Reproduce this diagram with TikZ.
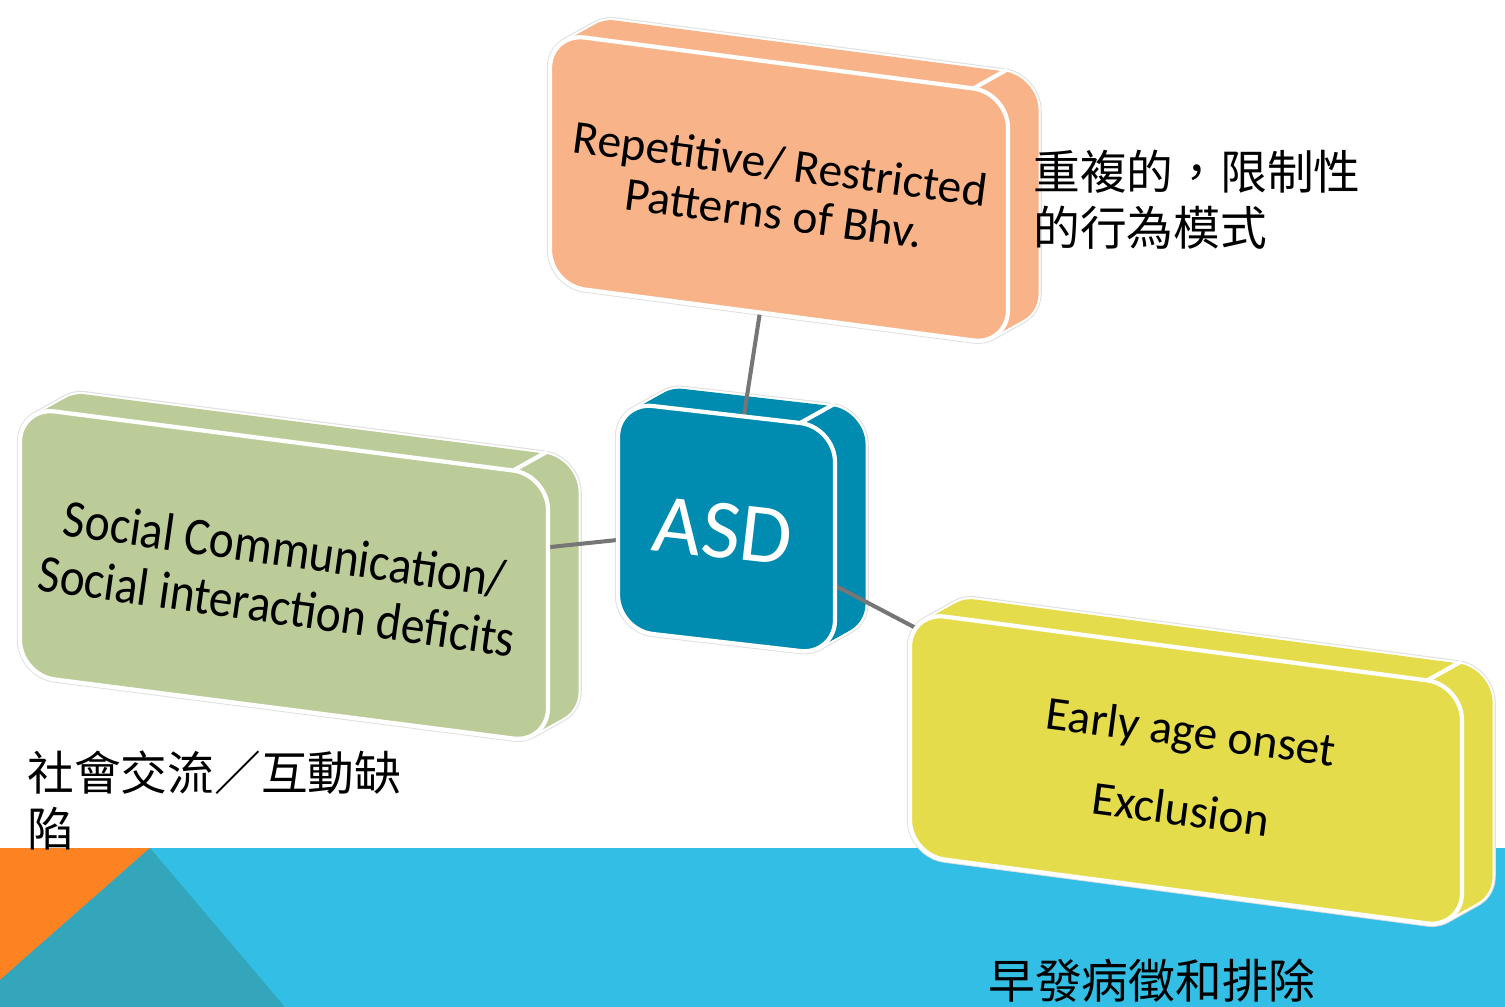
\documentclass[tikz,border=0pt]{standalone}
\usepackage{fontspec}
\newfontfamily\boxfont{Carlito}
\newfontfamily\cjk{Noto Sans CJK TC}
\usetikzlibrary{calc}
\definecolor{bandblue}{HTML}{33BFE5}
\definecolor{bandorange}{HTML}{FC8222}
\definecolor{bandteal}{HTML}{33A6BC}
\definecolor{reppeach}{HTML}{F8B388}
\definecolor{asdblue}{HTML}{008BB0}
\definecolor{socgreen}{HTML}{BCCC99}
\definecolor{onsetyellow}{HTML}{E5DC4C}
\definecolor{linkgray}{HTML}{767676}
\def\mdepthx{34}
\def\mdepthy{-19}
\def\mradius{0.7cm}
% corner #1 pushed back by the fraction #2 of the depth
\newcommand{\slabat}[2]{($(#1)+(#2*\mdepthx,#2*\mdepthy)$)}
\newcommand{\slabface}[2]{($(#1tl)!0.5!(#1bl)+(#2*\mdepthx,#2*\mdepthy)$) -- \slabat{#1tl}{#2} -- \slabat{#1tr}{#2} -- \slabat{#1br}{#2} -- \slabat{#1bl}{#2} -- cycle}
\tikzset{
  slabrim/.style={draw=white, line width=2.4pt, rounded corners=\mradius},
  slabshade/.style={draw=black!12, line width=3.6pt, rounded corners=\mradius},
  slabfill/.style={rounded corners=\mradius},
  link/.style={draw=linkgray, line width=2.3pt},
  slabtext/.style={font=\boxfont\fontsize{27}{28.5}\selectfont, align=center, inner sep=0pt},
  cjklabel/.style={font=\cjk\fontsize{26.6}{31.5}\selectfont, align=left, inner sep=0pt, anchor=base west},
}
\newcommand{\slabback}[2]{%
  \foreach \t in {0,0.1,...,1}
    \draw[slabshade] \slabface{#1}{\t};
  \foreach \t in {0,0.1,...,1}
    \draw[slabrim] \slabface{#1}{\t};
  \foreach \t in {0,0.1,...,1}
    \fill[#2, slabfill] \slabface{#1}{\t};
  \draw[slabrim] ($(#1tr)!\mradius!(#1tl)$) -- ++(\mdepthx,\mdepthy);
}
\newcommand{\slabfront}[2]{\filldraw[slabrim, fill=#2] \slabface{#1}{0};}
\begin{document}
\begin{tikzpicture}[x=0.02cm, y=-0.02cm]
  \useasboundingbox (0,0) rectangle (1505,1007);
  \fill[white] (0,0) rectangle (1505,1007);
  % bottom band
  \fill[bandblue] (0,848) rectangle (1505,1007);
  \fill[bandorange] (0,848) -- (150,848) -- (0,980) -- cycle;
  \fill[bandteal] (150,848) -- (285,1007) -- (0,1007) -- (0,980) -- cycle;

  % corners of the front faces
  \coordinate (reptl) at (550,33);   \coordinate (reptr) at (1008,93);
  \coordinate (repbr) at (1008,345); \coordinate (repbl) at (550,285);
  \coordinate (asdtl) at (618,402);  \coordinate (asdtr) at (835,427);
  \coordinate (asdbr) at (835,655);  \coordinate (asdbl) at (618,630);
  \coordinate (soctl) at (20,407);   \coordinate (soctr) at (548,475);
  \coordinate (socbr) at (548,743);  \coordinate (socbl) at (20,675);
  \coordinate (onsettl) at (910,612);  \coordinate (onsettr) at (1462,685);
  \coordinate (onsetbr) at (1462,928); \coordinate (onsetbl) at (910,855);
  \coordinate (rep) at (779,189);
  \coordinate (asd) at (726.5,528.5);
  \coordinate (soc) at (284,575);
  \coordinate (onset) at (1186,770);

  \slabback{rep}{reppeach}
  \slabback{asd}{asdblue}
  \slabback{soc}{socgreen}
  \slabback{onset}{onsetyellow}

  \draw[link] (rep) -- (asd);
  \draw[link] (soc) -- (asd);
  \draw[link] (asd) -- (onset);

  \slabfront{rep}{reppeach}
  \slabfront{asd}{asdblue}
  \slabfront{soc}{socgreen}
  \slabfront{onset}{onsetyellow}

  \node[slabtext, rotate=-7.5] (reptext) at (777,188) {Repetitive/ Restricted\\Patterns of Bhv.};
  \node[slabtext, rotate=-6.5, text=white, font=\boxfont\fontsize{48}{50}\selectfont] (asdtext) at (723,531) {ASD};
  \node[slabtext, rotate=-8, yscale=1.12, font=\boxfont\fontsize{27}{29.5}\selectfont] (soctext) at (281,577) {Social Communication/\\Social interaction deficits};
  \node[slabtext, rotate=-7.5] (onsettext) at (onset) {Early age onset\\[0.6em]Exclusion};

  \node[cjklabel] (repcn) at (1033,245) {重複的，限制性\\的行為模式};
  \node[cjklabel] (soccn) at (27,846) {社會交流／互動缺\\陷};
  \node[cjklabel] (onsetcn) at (988,998) {早發病徵和排除};
\end{tikzpicture}
\end{document}
